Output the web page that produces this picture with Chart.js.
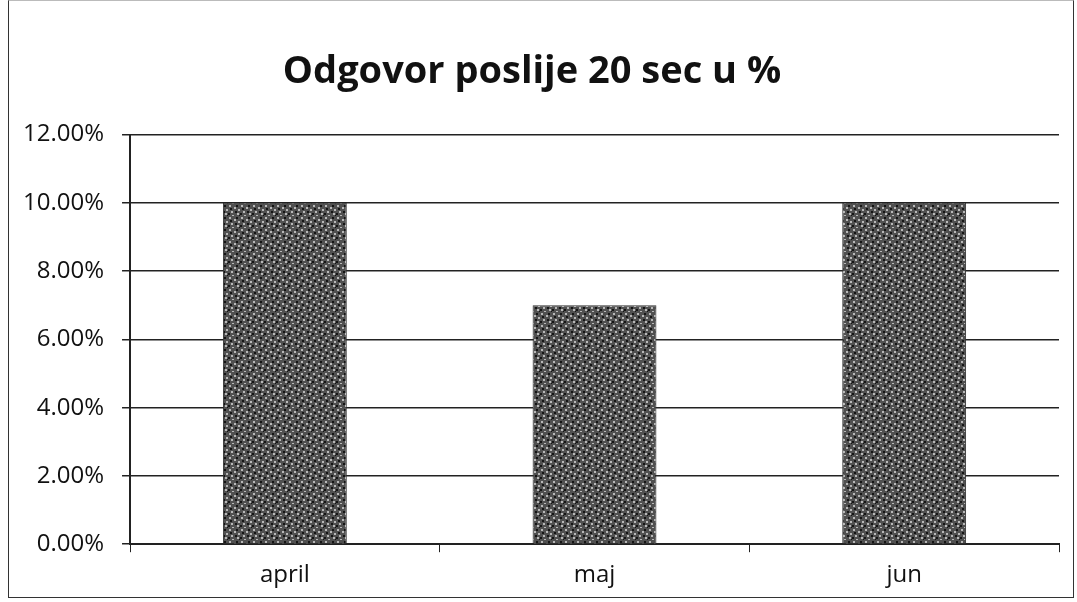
<!DOCTYPE html>
<html>
<head>
<meta charset="utf-8">
<script src="https://cdn.jsdelivr.net/npm/chart.js@4/dist/chart.umd.min.js"></script>
<style>
  html, body { margin: 0; padding: 0; background: #fff; }
  #frame { position: absolute; left: 8px; top: 0; width: 1066px; height: 598px; border: 1px solid #333; border-top-color: #bbb; box-sizing: border-box; }
  canvas { position: absolute; left: 0; top: 0; }
</style>
</head>
<body>
<div id="frame"></div>
<canvas id="chart" width="1077" height="602"></canvas>
<script>
const categories = ['april', 'maj', 'jun'];
const values = [0.10, 0.07, 0.10];
const yTicks = [0, 0.02, 0.04, 0.06, 0.08, 0.10, 0.12];

// grainy gray fill like the scanned bars
function barPattern() {
  const c = document.createElement('canvas');
  c.width = 12; c.height = 12;
  const g = c.getContext('2d');
  g.fillStyle = '#505050';
  g.fillRect(0, 0, 12, 12);
  g.fillStyle = '#b8b8b8';
  [[1,1],[6,3],[3,7],[9,9],[10,5],[4,11]].forEach(([x, y]) => g.fillRect(x, y, 2, 2));
  g.fillStyle = '#151515';
  [[8,1],[2,4],[7,7],[0,9],[11,11]].forEach(([x, y]) => g.fillRect(x, y, 2, 2));
  return g.createPattern(c, 'repeat');
}

const FONT = "'Open Sans', 'DejaVu Sans', sans-serif";

new Chart(document.getElementById('chart'), {
  type: 'bar',
  data: {
    labels: categories,
    datasets: [{
      data: values,
      backgroundColor: barPattern(),
      borderColor: '#333',
      borderWidth: 1,
      categoryPercentage: 0.4,
      barPercentage: 1.0
    }]
  },
  options: {
    responsive: false,
    animation: false,
    layout: { padding: { left: 5, right: 18, top: 29, bottom: 3 } },
    plugins: {
      legend: { display: false },
      tooltip: { enabled: false },
      title: {
        display: true,
        text: 'Odgovor poslije 20 sec u %',
        color: '#111',
        font: { family: FONT, size: 38, weight: 'bold' },
        padding: { top: 20, bottom: 40 }
      }
    },
    scales: {
      x: {
        offset: true,
        grid: { offset: true, drawOnChartArea: false, drawTicks: true, tickLength: 8, color: '#222' },
        border: { color: '#222', width: 2 },
        ticks: { color: '#111', font: { family: FONT, size: 24 }, padding: 9 }
      },
      y: {
        min: 0,
        max: 0.12,
        afterBuildTicks: axis => { axis.ticks = yTicks.map(v => ({ value: v })); },
        grid: { color: '#222', lineWidth: 1.5, tickLength: 8 },
        border: { color: '#222', width: 2 },
        ticks: {
          color: '#111',
          font: { family: FONT, size: 24 },
          padding: 18,
          callback: v => (v * 100).toFixed(2) + '%'
        }
      }
    }
  }
});
</script>
</body>
</html>
